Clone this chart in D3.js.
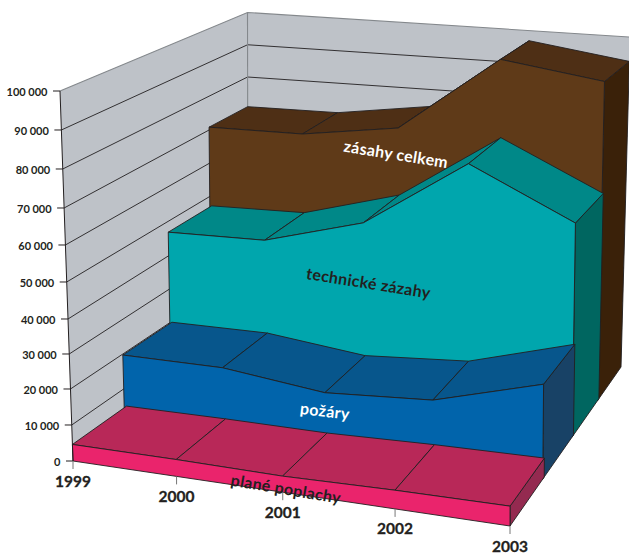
<!DOCTYPE html>
<html><head><meta charset="utf-8">
<style>html,body{margin:0;padding:0;background:#fff;overflow:hidden}svg{display:block}text{font-family:Lato,sans-serif;font-weight:700}</style>
<script src="https://cdn.jsdelivr.net/npm/d3@7"></script></head><body>
<svg id="c" width="629" height="553"></svg>
<script>
const years = [1999, 2000, 2001, 2002, 2003];
const falseAlarms = [4600, 4600, 4300, 4900, 5100];
const fires = [19700, 19500, 16000, 17600, 25600];
const technical = [46800, 47100, 54700, 73900, 60000];
const total = [70800, 70900, 74800, 96900, 92600];
const seriesNames = ["plané poplachy", "požáry", "technické zázahy", "zásahy celkem"];
const seriesValues = [falseAlarms, fires, technical, total];
const frontColors = ["#ea246c", "#0164ab", "#00a6ad", "#5f3a18"];
const topColors = ["#b82858", "#07568c", "#008888", "#4e2f15"];
const sideColors = ["#942a50", "#184266", "#006660", "#3a2109"];
const labelYears = [2001.03, 2001, 2001.05, 2000.98];
const labelValues = [1200, 11100, 37900, 67300];
const labelAngles = [9.5, 7, 9, 9];
const labelColors = ["#231f20", "#ffffff", "#231f20", "#ffffff"];

// 3D frame: corners of the plot box, as picture positions
const corner = {
  o: [73, 461], u: [510, 526], v: [60, 91], uv: [511, 126],
  w: [248, 335], uw: [621, 367], vw: [247.5, 12.5], uvw: [630, 37]
};
const uScale = d3.scaleLinear().domain(years).range([0, .237, .48, .737, 1]);
const wScale = d3.scaleLinear().domain([0, 1, 2, 3, 4]).range([0, .295, .56, .79, 1]);
const vTicks = d3.range(0, 100001, 10000);
const vScaleBack = d3.scaleLinear().domain([0, 100000]).range([0, 1]);
const vScaleFront = d3.scaleLinear().domain(vTicks)
  .range([0, .0973, .1946, .2892, .3838, .4838, .5838, .6838, .7892, .8946, 1]);
const depthGap = 0.05;
const lerp = (a, b, t) => [a[0] + (b[0] - a[0]) * t, a[1] + (b[1] - a[1]) * t];
function P(year, depth, value) {
  const u = uScale(year), w = wScale(depth);
  const v = vScaleFront(value) * (1 - w) + vScaleBack(value) * w;
  const a = lerp(lerp(corner.o, corner.u, u), lerp(corner.w, corner.uw, u), w);
  const b = lerp(lerp(corner.v, corner.uv, u), lerp(corner.vw, corner.uvw, u), w);
  return lerp(a, b, v);
}
const svg = d3.select("#c");
const line = d3.line();
const closed = d3.line().curve(d3.curveLinearClosed);
const ink = "#231f20", wallEdge = "#84888c", wallFill = "#bec2c8";
const y0 = years[0], y1 = years[years.length - 1];

// walls
svg.append("path").attr("d", closed([P(y0,0,0),P(y0,0,1e5),P(y0,4,1e5),P(y0,4,0)])).attr("fill", wallFill);
svg.append("path").attr("d", closed([P(y0,4,0),P(y0,4,1e5),P(y1,4,1e5),P(y1,4,0)])).attr("fill", wallFill);
vTicks.filter(t => t > 0 && t < 1e5).forEach(t => {
  svg.append("path").attr("d", line([P(y0,0,t),P(y0,4,t),P(y1,4,t)]))
    .attr("fill","none").attr("stroke",ink).attr("stroke-width",.9);
});
svg.append("path").attr("d", line([P(y0,0,1e5),P(y0,4,1e5),P(y1,4,1e5)])).attr("fill","none").attr("stroke",wallEdge).attr("stroke-width",1.1);
svg.append("path").attr("d", line([P(y0,4,1e5),P(y0,4,0)])).attr("fill","none").attr("stroke",wallEdge).attr("stroke-width",1.1);

// series, back to front
for (let i = seriesValues.length - 1; i >= 0; i--) {
  const vals = seriesValues[i];
  const n = years.length;
  const back = i === seriesValues.length - 1 ? i + 1 : i + 1 + depthGap;
  const face = (pts, fill) => svg.append("path").attr("d", closed(pts)).attr("fill", fill)
    .attr("stroke", ink).attr("stroke-width", .9).attr("stroke-linejoin","round");
  face([P(y1,i,0),P(y1,back,0),P(y1,back,vals[n-1]),P(y1,i,vals[n-1])], sideColors[i]);
  for (let k = 0; k < n - 1; k++) {
    face([P(years[k],i,vals[k]),P(years[k+1],i,vals[k+1]),P(years[k+1],back,vals[k+1]),P(years[k],back,vals[k])], topColors[i]);
  }
  face([P(y0,i,0), ...years.map((y,k) => P(y,i,vals[k])), P(y1,i,0)], frontColors[i]);
}

// value axis
svg.append("path").attr("d", line([P(y0,0,0),P(y0,0,1e5)])).attr("stroke",ink).attr("stroke-width",1).attr("fill","none");
const fmt = d3.formatLocale({decimal:",",thousands:" ",grouping:[3],currency:["",""]}).format(",d");
vTicks.forEach(t => {
  const p = P(y0,0,t);
  svg.append("path").attr("d", line([[p[0]-7,p[1]],p])).attr("stroke",ink).attr("stroke-width",1);
  svg.append("text").attr("x",p[0]-12.5).attr("y",p[1]+5).attr("text-anchor","end")
    .attr("font-size",11).attr("fill",ink).text(fmt(t));
});
// year axis
years.forEach(y => {
  const p = P(y,0,0);
  svg.append("path").attr("d", line([p,[p[0],p[1]+8]])).attr("stroke","#777").attr("stroke-width",1);
  svg.append("text").attr("x",p[0]).attr("y",p[1]+25.5).attr("text-anchor","middle")
    .attr("font-size",15.5).attr("fill",ink).attr("stroke",ink).attr("stroke-width",.3).text(y);
});
// series labels
seriesNames.forEach((s,i) => {
  const p = P(labelYears[i], i, labelValues[i]);
  svg.append("text").attr("transform",`translate(${p[0]},${p[1]}) rotate(${labelAngles[i]})`)
    .attr("text-anchor","middle").attr("dominant-baseline","central")
    .attr("font-size",16).attr("letter-spacing",.3).attr("fill",labelColors[i]).text(s);
});
</script></body></html>
